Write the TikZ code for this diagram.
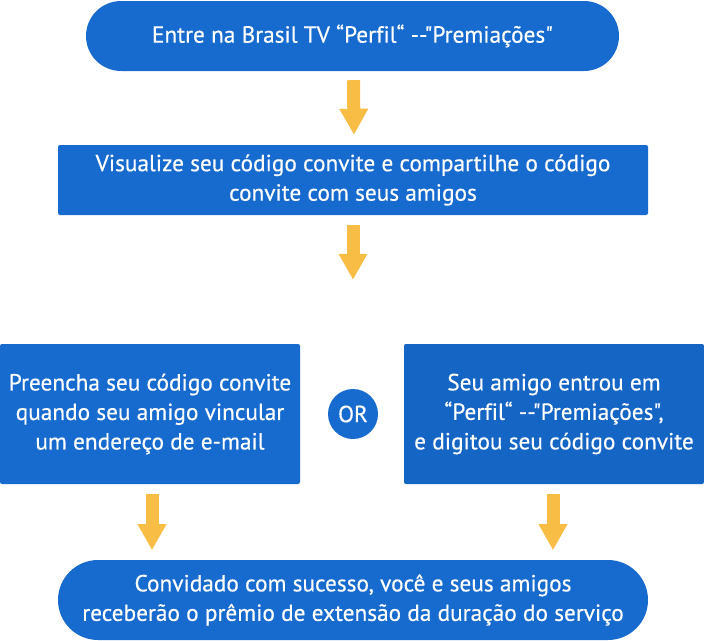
\documentclass[tikz,border=0pt]{standalone}
\usepackage{fontspec}
\setmainfont{PT Sans}[Ligatures={TeXOff,NoCommon},FakeBold=0.4]
\usetikzlibrary{arrows.meta,calc}
\definecolor{bblue}{HTML}{176BCE}
\definecolor{bblue2}{HTML}{1565C4}
\definecolor{ayellow}{HTML}{F8BD45}
\begin{document}
\begin{tikzpicture}[x=1pt,y=-1pt,
  every node/.style={text=white,font=\fontsize{23.3}{29.5}\selectfont,align=center,inner sep=0pt},
  pill/.style={fill=bblue,rounded corners=#1},
  boxx/.style={fill=bblue,rounded corners=2pt},
  flow/.style={draw=ayellow,line width=13pt,-{Triangle[width=27pt,length=26pt]},shorten <=0pt}
]
\useasboundingbox (0,0) rectangle (704,640);
\node[pill=35pt,minimum width=533pt,minimum height=70pt] (top) at (352.5,36) {Entre na Brasil TV “Perfil“ --"Premiações"};
\node[boxx,minimum width=590pt,minimum height=70pt] (mid) at (353,180) {Visualize seu código convite e compartilhe o código\\convite com seus amigos};
\node[boxx,minimum width=300pt,minimum height=140pt] (left) at (150,414) {Preencha seu código convite\\quando seu amigo vincular\\um endereço de e-mail};
\node[boxx,fill=bblue2,minimum width=300pt,minimum height=140pt] (right) at (554,414) {Seu amigo entrou em\\“Perfil“ --"Premiações",\\e digitou seu código convite};
\node[circle,fill=bblue,minimum size=50pt] (or) at (353,414) {OR};
\node[pill=40pt,minimum width=590pt,minimum height=80pt] (bot) at (353,600) {Convidado com sucesso, você e seus amigos\\receberão o prêmio de extensão da duração do serviço};
\draw[flow] ($(top.south)+(1,9)$) -- ($(mid.north)+(1,-10)$);
\draw[flow] ($(mid.north)+(0,80)$) -- ($(mid.north)+(0,135)$);
\draw[flow] ($(left.south)+(2,10)$) -- ($(left.south)+(2,66)$);
\draw[flow] ($(right.south)+(-1,10)$) -- ($(right.south)+(-1,66)$);
\end{tikzpicture}
\end{document}
